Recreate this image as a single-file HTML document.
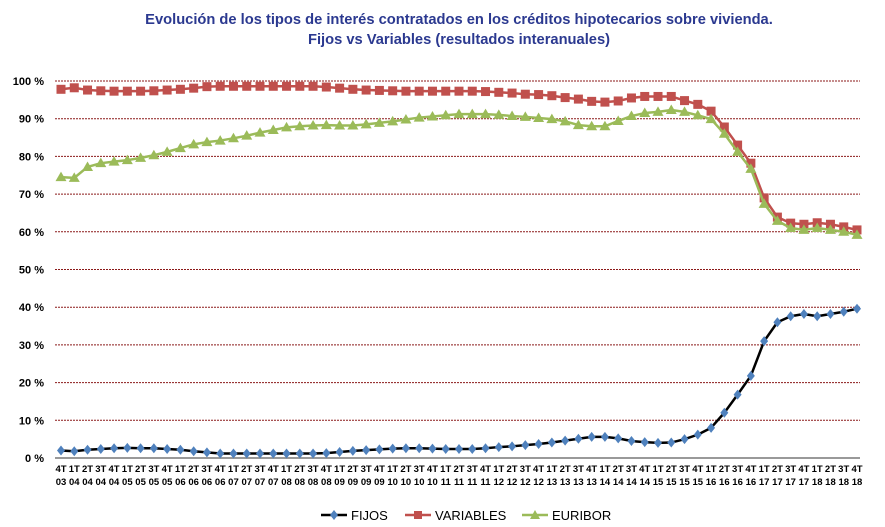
<!DOCTYPE html>
<html><head><meta charset="utf-8"><style>
body{margin:0;background:#fff;font-family:"Liberation Sans",sans-serif}
svg{display:block}
</style></head><body>
<svg id="chart" width="885" height="527">
<text x="459" y="24" text-anchor="middle" font-size="14.7" font-weight="bold" fill="#2b3990">Evolución de los tipos de interés contratados en los créditos hipotecarios sobre vivienda.</text>
<text x="459" y="44" text-anchor="middle" font-size="14.7" font-weight="bold" fill="#2b3990">Fijos vs Variables (resultados interanuales)</text>
<g id="grid"></g><g id="xlab"></g><g id="series"></g>
<g>
<g><line x1="321" y1="515" x2="347" y2="515" stroke="#000" stroke-width="2.5"/><path d="M334 510 L338 515 L334 520 L330 515Z" fill="#4f81bd"/><text x="351" y="520" font-size="13">FIJOS</text></g>
<g><line x1="405" y1="515" x2="431" y2="515" stroke="#c0504d" stroke-width="2.5"/><rect x="414" y="511" width="8" height="8" fill="#c0504d"/><text x="435" y="520" font-size="13">VARIABLES</text></g>
<g><line x1="522" y1="515" x2="548" y2="515" stroke="#9bbb59" stroke-width="2.5"/><path d="M535 510 L540 519 L530 519Z" fill="#9bbb59"/><text x="552" y="520" font-size="13">EURIBOR</text></g>
</g>
</svg>
<script>
const quarters=["4T03"];
for(let y=4;y<=18;y++)for(let q=1;q<=4;q++)quarters.push(q+"T"+(y<10?"0"+y:""+y));
const yTicks=[0,10,20,30,40,50,60,70,80,90,100];
const fijos=[2.0,1.8,2.2,2.4,2.6,2.7,2.6,2.6,2.4,2.2,1.8,1.5,1.2,1.2,1.2,1.2,1.2,1.2,1.2,1.2,1.3,1.6,1.9,2.1,2.3,2.5,2.6,2.6,2.5,2.4,2.4,2.4,2.6,2.9,3.1,3.4,3.7,4.1,4.6,5.1,5.6,5.6,5.2,4.5,4.2,4.0,4.1,5.0,6.2,8.0,12.0,16.8,21.8,31.0,36.0,37.6,38.2,37.6,38.2,38.8,39.6];
const variables=[97.8,98.2,97.6,97.4,97.3,97.3,97.3,97.4,97.6,97.8,98.1,98.5,98.6,98.6,98.6,98.6,98.6,98.6,98.6,98.6,98.4,98.1,97.8,97.6,97.5,97.4,97.3,97.3,97.3,97.3,97.3,97.3,97.2,97.0,96.8,96.5,96.4,96.1,95.6,95.2,94.6,94.4,94.7,95.5,95.9,95.9,95.9,94.8,93.8,92.0,87.8,83.0,78.2,69.0,63.9,62.3,62.0,62.4,62.0,61.3,60.5];
const euribor=[74.5,74.3,77.2,78.2,78.6,79.0,79.6,80.3,81.2,82.2,83.2,83.8,84.2,84.8,85.5,86.3,87.0,87.7,88.0,88.2,88.3,88.2,88.2,88.5,88.9,89.3,89.8,90.3,90.6,90.9,91.2,91.2,91.2,91.0,90.7,90.5,90.2,89.9,89.3,88.3,88.0,88.0,89.4,90.7,91.5,91.8,92.3,91.8,90.9,89.9,86.0,81.2,76.7,67.4,62.9,61.0,60.5,61.0,60.5,60.0,59.2];
const NS="http://www.w3.org/2000/svg";
const x0=61,x1=857,yb=458,yt=81;
const X=i=>x0+(x1-x0)*i/(quarters.length-1);
const Y=v=>yb-(yb-yt)*v/100;
function el(t,a,p){const e=document.createElementNS(NS,t);for(const k in a)e.setAttribute(k,a[k]);p.appendChild(e);return e;}
const grid=document.getElementById("grid");
yTicks.forEach(v=>{
  const l=el("line",{x1:55,x2:860,y1:Y(v),y2:Y(v),stroke:v?"#8b1a1a":"#999","stroke-width":v?1:2,"stroke-dasharray":v?"2,1":"none"},grid);
  
  
  const t=el("text",{x:44,y:Y(v)+4,"text-anchor":"end","font-size":11,"font-weight":"bold"},grid);
  t.textContent=v+" %";
  
  
});
const xl=document.getElementById("xlab");
quarters.forEach((q,i)=>{
  const t=el("text",{x:X(i),y:472,"text-anchor":"middle","font-size":9.5,"font-weight":"bold"},xl);
  t.textContent=q.slice(0,2);
  
  
  const t2=el("text",{x:X(i),y:485,"text-anchor":"middle","font-size":9.5,"font-weight":"bold"},xl);
  t2.textContent=q.slice(2);
  
  
});
const sg=document.getElementById("series");
function draw(data,color,marker,name){
  const g=el("g",{},sg);
  
  
  const ln=el("polyline",{points:data.map((v,i)=>X(i)+","+Y(v)).join(" "),fill:"none",stroke:color,"stroke-width":2.5,"stroke-linejoin":"round"},g);
  
  
  data.forEach((v,i)=>{
    const x=X(i),y=Y(v);let m;
    if(marker==="d")m=el("path",{d:`M${x} ${y-5}L${x+4} ${y}L${x} ${y+5}L${x-4} ${y}Z`,fill:"#4f81bd"},g);
    else if(marker==="s")m=el("rect",{x:x-4.5,y:y-4.5,width:9,height:9,fill:"#c0504d"},g);
    else m=el("path",{d:`M${x} ${y-5.5}L${x+5.5} ${y+4}L${x-5.5} ${y+4}Z`,fill:"#9bbb59"},g);
    
    
  });
}
draw(fijos,"#000","d","fijos");
draw(variables,"#c0504d","s","variables");
draw(euribor,"#9bbb59","t","euribor");
</script>
</body></html>
